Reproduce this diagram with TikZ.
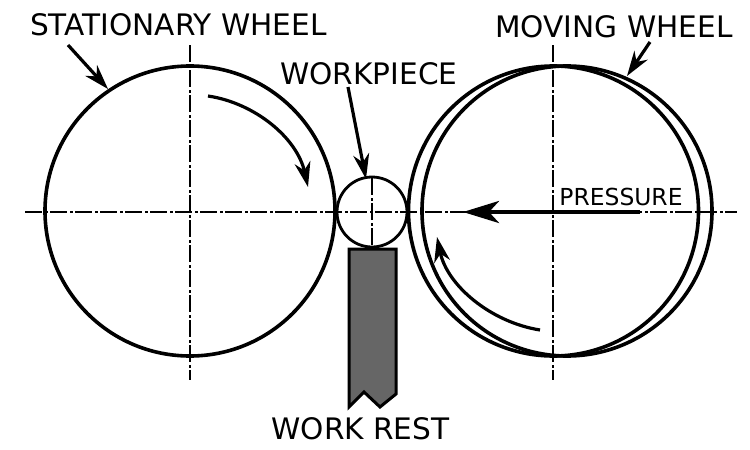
\documentclass[tikz,border=0pt]{standalone}
\usepackage{fontspec}
\setmainfont{DejaVu Sans}
\usetikzlibrary{arrows.meta,positioning}
\tikzset{
    >={Stealth[length=25pt,width=16pt,inset=8pt]},
    wheel/.style={
        circle,
        draw=black, line width=3.6pt,
        inner sep=0pt,
        minimum size=290pt
    },
    workpiece/.style={
        circle,
        draw=black, line width=2.8pt,
        inner sep=0pt,
        minimum size=70pt
    },
    centerline/.style={
        draw, line width=2pt,
        dash pattern=on 17pt off 3pt on 2.5pt off 2.5pt
    },
    pointer/.style={->, line width=3.2pt},
    pressarrow/.style={-{Stealth[length=36pt,width=22pt,inset=10pt]}, line width=4.5pt},
    restblock/.style={draw, line width=3pt, fill=black!60, line join=miter},
    biglabel/.style={font={\fontsize{29.6pt}{34}\selectfont}, inner sep=0pt},
}
\begin{document}
\begin{tikzpicture}[x=1pt,y=-1pt]
\useasboundingbox (0,0) rectangle (750,450);
% center lines
\coordinate (hl) at (25,212);
\coordinate (hr) at (737,212);
\coordinate (sct) at (190,45);
\coordinate (scb) at (190,380);
\coordinate (mct) at (553,45);
\coordinate (mcb) at (553,380);
\draw[centerline] (hl) -- (hr);
\draw[centerline] (sct) -- (scb);
\draw[centerline] (mct) -- (mcb);
% wheels
\node[wheel] (stationary) at (190,211) {};
\node[wheel] (movingA) at (553.5,211) {};
\node[wheel] (movingB) at (567,211) {};
\node[workpiece] (work) at (372,212) {};
\coordinate (wct) at (372,178);
\coordinate (wcb) at (372,246);
\draw[centerline] (wct) -- (wcb);
% work rest
\draw[restblock] (349,249) -- (396,249) -- (396,394) -- (380,407) -- (364,392)
    -- (349,407) -- cycle;
% labels
\node[biglabel] (statlabel) at (178.5,25) {STATIONARY WHEEL};
\node[biglabel] (movlabel) at (614,27) {MOVING WHEEL};
\node[biglabel] (worklabel) at (369,74) {WORKPIECE};
\node[biglabel] (restlabel) at (360.5,429) {WORK REST};
\node[font={\fontsize{23.4pt}{27}\selectfont}, inner sep=0pt] (presslabel) at (621,197) {PRESSURE};
% arrows
\coordinate (sa) at (68,45);
\coordinate (sb) at (108,89);
\coordinate (ma) at (650,42);
\coordinate (mb) at (627,76);
\coordinate (wa) at (348,87);
\coordinate (wb) at (366,179);
\coordinate (pa) at (640,212);
\coordinate (pb) at (463,212);
\draw[pointer] (sa) -- (sb);
\draw[pointer] (ma) -- (mb);
\draw[pointer] (wa) -- (wb);
\draw[pressarrow] (pa) -- (pb);
% rotation
\coordinate (ra) at (208,96);
\coordinate (rb) at (308,187);
\coordinate (rc) at (540,330);
\coordinate (rd) at (437,237);
\draw[pointer] (ra) .. controls (255,103) and (297,138) .. (rb);
\draw[pointer] (rc) .. controls (490,322) and (447,285) .. (rd);
\end{tikzpicture}
\end{document}
